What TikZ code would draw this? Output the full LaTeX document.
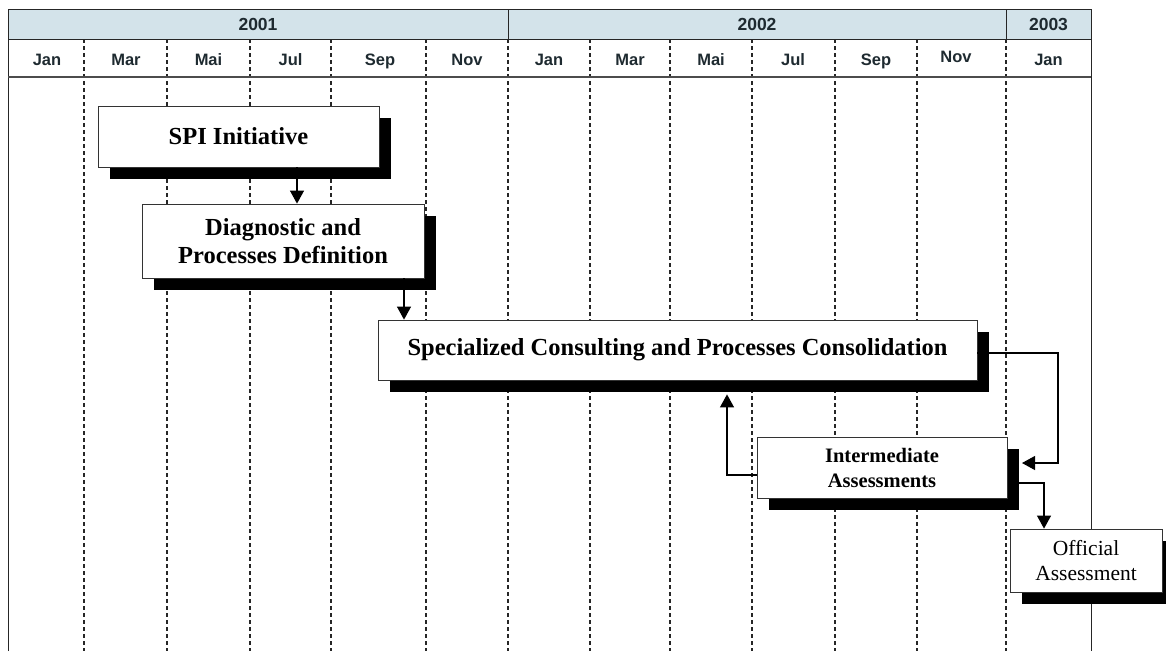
\documentclass[tikz,border=0pt]{standalone}
\usepackage{fontspec}
\setmainfont{Liberation Serif}
\newfontfamily\hdrfont{Liberation Sans}
\usetikzlibrary{shadows,arrows.meta,calc}
\definecolor{yearfill}{HTML}{D3E3EA}
\definecolor{hdrtext}{HTML}{1E2A30}
\tikzset{
  gridline/.style={line width=1.1pt, dash pattern=on 4pt off 3pt, black!85},
  frameline/.style={line width=1pt, black!85},
  box/.style={draw=black!80, line width=0.8pt, fill=white, align=center, inner sep=0pt,
    drop shadow={shadow xshift=12pt, shadow yshift=-12pt, fill=black, opacity=1}},
  bigtxt/.style={font=\bfseries\fontsize{24.5}{28}\selectfont},
  midtxt/.style={font=\bfseries\fontsize{20.5}{25}\selectfont},
  smalltxt/.style={font=\fontsize{21.5}{25}\selectfont},
  mon/.style={font=\hdrfont\bfseries\fontsize{16.5}{18}\selectfont, text=hdrtext,
    text height=12pt, text depth=3.5pt, inner sep=0pt},
  yr/.style={font=\hdrfont\bfseries\fontsize{17.5}{19}\selectfont, text=hdrtext},
  conn/.style={line width=1.1pt, -{Triangle[width=14pt,length=13pt]}},
}
\begin{document}
\begin{tikzpicture}[x=1pt,y=-1pt]
\useasboundingbox (0,0) rectangle (1166,651);
% header
\fill[yearfill] (8,9) rectangle (1091,39);
\foreach \x in {84,167,250,331,426,508,590,670,752,835,917,1006}
  \draw[gridline] (\x,39) -- (\x,651);
\draw[frameline] (8,651) -- (8,9) -- (1091,9) -- (1091,651);
\draw[frameline] (8,39) -- (1091,39);
\draw[line width=1.4pt, black!70] (8,77) -- (1091,77);
\draw[frameline] (508,9) -- (508,39);
\draw[frameline] (1006,9) -- (1006,39);
\node[yr] (y1) at (258,24.5) {2001};
\node[yr] (y2) at (757,24.5) {2002};
\node[yr] (y3) at (1048.5,24.5) {2003};
\node[mon] (m1) at (47,61.5) {Jan};
\node[mon] (m2) at (126,61.5) {Mar};
\node[mon] (m3) at (208.5,61.5) {Mai};
\node[mon] (m4) at (290.5,61.5) {Jul};
\node[mon] (m5) at (380,61.5) {Sep};
\node[mon] (m6) at (467,61.5) {Nov};
\node[mon] (m7) at (549,61.5) {Jan};
\node[mon] (m8) at (630,61.5) {Mar};
\node[mon] (m9) at (711,61.5) {Mai};
\node[mon] (m10) at (793,61.5) {Jul};
\node[mon] (m11) at (876,61.5) {Sep};
\node[mon] (m12) at (956,58.5) {Nov};
\node[mon] (m13) at (1048.5,61.5) {Jan};
% boxes
\node[box, bigtxt, minimum width=281pt, minimum height=61pt] (spi) at (238.5,136.5) {SPI Initiative};
\node[box, bigtxt, minimum width=282pt, minimum height=74pt] (diag) at (283,241) {Diagnostic and\\Processes Definition};
\node[box, bigtxt, minimum width=599pt, minimum height=60pt] (spec) at (677.5,350) {Specialized Consulting and Processes Consolidation};
\node[box, midtxt, minimum width=250pt, minimum height=61pt] (inter) at (882,467.5) {Intermediate\\Assessments};
\node[box, smalltxt, minimum width=152pt, minimum height=63pt] (off) at (1086,560.5) {Official\\Assessment};
% connectors
\coordinate (a1) at (297,0);
\draw[conn] (spi.south -| a1) -- (diag.north -| a1);
\coordinate (a2) at (404,0);
\draw[conn] (diag.south -| a2) -- (spec.north -| a2);
\coordinate (s1) at ($(spec.east)+(0,3)$);
\coordinate (t1) at (1022,463);
\draw[conn] (s1) -| (1058,463) -- (t1);
\coordinate (i1) at ($(inter.west)+(0,7.5)$);
\coordinate (t2) at ($(spec.south)+(49.5,14)$);
\draw[conn] (i1) -| (t2);
\coordinate (i2) at (1019,483);
\coordinate (a3) at (1044,0);
\draw[conn] (i2) -| (off.north -| a3);
\end{tikzpicture}
\end{document}
